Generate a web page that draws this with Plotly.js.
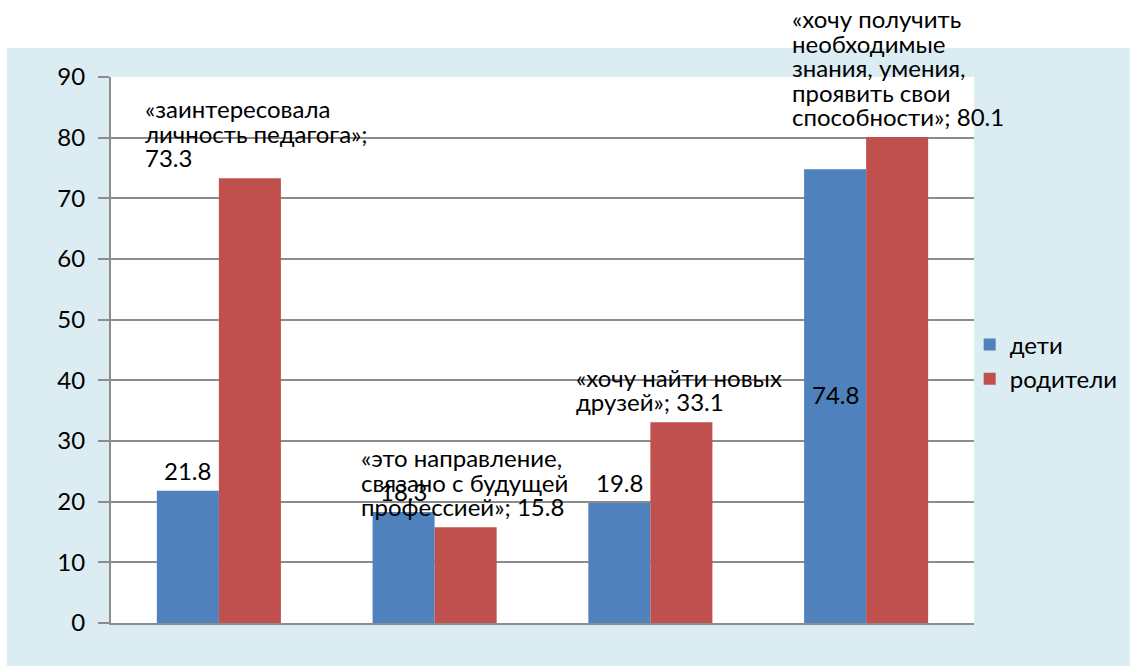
<!DOCTYPE html>
<html>
<head>
<meta charset="utf-8">
<script src="https://cdn.plot.ly/plotly-3.0.1.min.js"></script>
<style>
  html, body { margin: 0; padding: 0; background: #ffffff; }
  #bg { position: absolute; left: 7px; top: 48px; width: 1123px; height: 618px; background: #dbecf2; }
  #chart { position: absolute; left: 0; top: 0; width: 1130px; height: 666px; }
</style>
</head>
<body>
<div id="bg"></div>
<div id="chart"></div>
<script>
// Categories (line breaks as in the chart's data labels)
const categories = [
  'заинтересовала<br>личность педагога',
  'это направление,<br>связано с будущей<br>профессией',
  'хочу найти новых<br>друзей',
  'хочу получить<br>необходимые<br>знания, умения,<br>проявить свои<br>способности'
];
const valueSeparator = ['<br>', ' ', ' ', ' '];

const seriesNames = ['дети', 'родители'];
const childrenValues = [21.8, 18.3, 19.8, 74.8];
const parentsValues = [73.3, 15.8, 33.1, 80.1];

const yTicks = [0, 10, 20, 30, 40, 50, 60, 70, 80, 90];

// styling / label placement (pixels)
const FONT = 'Lato, "Open Sans", sans-serif';
const FS = 24;
const LINE_H = 24.5;
const blueLabelShift = [0, 0, 0, -246];

const idx = categories.map((c, i) => i);
const half = 0.575 / 4;

const traces = [
  {
    type: 'bar', name: seriesNames[0], x: idx, y: childrenValues,
    marker: { color: '#4f81bd' }, hoverinfo: 'none'
  },
  {
    type: 'bar', name: seriesNames[1], x: idx, y: parentsValues,
    marker: { color: '#c0504d' }, hoverinfo: 'none'
  }
];

const annotations = [];
childrenValues.forEach((v, i) => {
  annotations.push({
    x: i - half, y: v, xref: 'x', yref: 'y',
    text: v.toFixed(1), showarrow: false,
    xanchor: 'center', yanchor: 'bottom', yshift: 4 + blueLabelShift[i],
    font: { family: FONT, size: FS, color: '#000' }
  });
});
parentsValues.forEach((v, i) => {
  const lines = ('«' + categories[i] + '»;' + valueSeparator[i] + v.toFixed(1)).split('<br>');
  lines.forEach((ln, j) => {
    const k = lines.length - 1 - j;
    annotations.push({
      x: i + half, y: v, xref: 'x', yref: 'y',
      text: ln, showarrow: false, align: 'left',
      xanchor: 'left', yanchor: 'bottom', xshift: -107, yshift: 4 + k * LINE_H,
      font: { family: FONT, size: FS, color: '#000' }
    });
  });
});

const layout = {
  width: 1130, height: 666,
  margin: { l: 111, r: 156, t: 77, b: 43, pad: 0, autoexpand: false },
  paper_bgcolor: 'rgba(0,0,0,0)',
  plot_bgcolor: '#ffffff',
  barmode: 'group', bargap: 0.425, bargroupgap: 0,
  font: { family: FONT, size: FS, color: '#000' },
  showlegend: true,
  legend: {
    x: 0.995, xanchor: 'left', y: 0.478, yanchor: 'middle',
    bgcolor: 'rgba(0,0,0,0)', font: { family: FONT, size: FS, color: '#000' },
    itemwidth: 30, tracegroupgap: 0
  },
  xaxis: {
    type: 'linear', range: [-0.5, 3.5], showticklabels: false, showgrid: false,
    zeroline: false, showline: true, linecolor: '#8c8c8c', linewidth: 2, ticks: '',
    fixedrange: true
  },
  yaxis: {
    range: [0, 90], tickvals: yTicks, ticktext: yTicks.map(String),
    showgrid: true, gridcolor: '#8c8c8c', gridwidth: 2,
    zeroline: false, showline: true, linecolor: '#8c8c8c', linewidth: 2,
    ticks: 'outside', ticklen: 11, tickwidth: 2, tickcolor: '#8c8c8c',
    ticklabelstandoff: 8,
    tickfont: { family: FONT, size: FS, color: '#000' },
    fixedrange: true
  },
  annotations: annotations
};

Plotly.newPlot('chart', traces, layout, { displayModeBar: false, staticPlot: true });
</script>
</body>
</html>
